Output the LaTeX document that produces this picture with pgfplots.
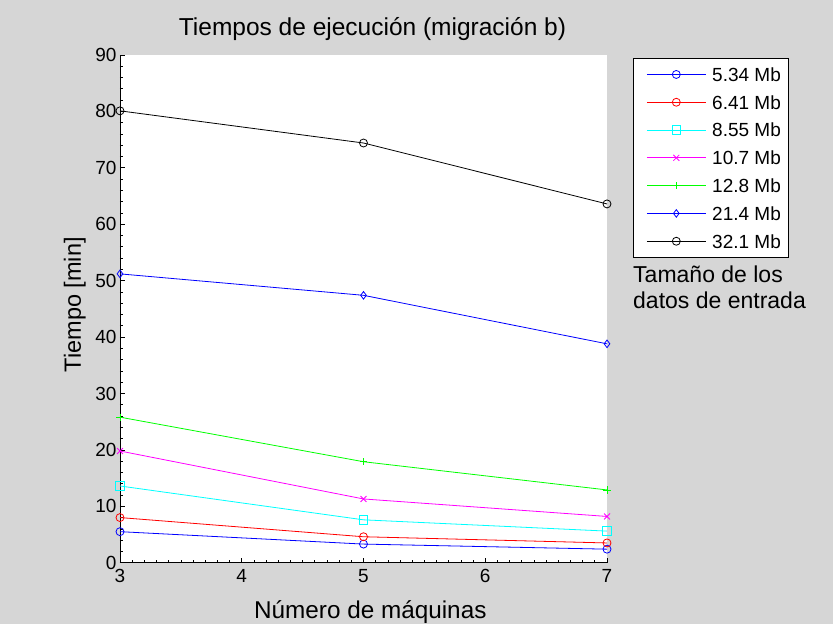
\documentclass[border=0pt]{standalone}
\usepackage{pgfplots}
\pgfplotsset{compat=1.18}
\usetikzlibrary{calc,backgrounds}
\usepackage{fontspec}
\setmainfont{Liberation Sans}
\definecolor{bg}{RGB}{214,214,214}
\definecolor{mblue}{RGB}{0,0,255}
\definecolor{mred}{RGB}{255,0,0}
\definecolor{mcyan}{RGB}{0,255,255}
\definecolor{mmagenta}{RGB}{255,0,255}
\definecolor{mgreen}{RGB}{0,255,0}

\begin{document}
\begin{tikzpicture}
\begin{axis}[
    name=ax,
    scale only axis, width=487pt, height=507.7pt,
    xmin=3, xmax=7, ymin=0, ymax=90,
    xtick={3,4,5,6,7}, ytick={0,10,...,90},
    minor x tick num=9, minor y tick num=4,
    axis x line*=bottom, axis y line*=left,
    axis line style={line width=0.8pt},
    tick align=inside,
    major tick length=5pt, minor tick length=3pt,
    tick style={black, line width=0.7pt},
    axis background/.style={fill=white},
    clip=false,
    /pgf/number format/assume math mode=true,
    tick label style={font=\fontsize{19}{22}\selectfont},
    xticklabel style={yshift=-3pt},
    title={Tiempos de ejecución (migración b)},
    title style={at={(axis description cs:0.5185,1.0262)}, anchor=base, yshift=0pt, font=\fontsize{24.5}{28}\selectfont, inner sep=0pt},
    xlabel={Número de máquinas},
    xlabel style={at={(axis description cs:0.514,-0.1105)}, anchor=base, font=\fontsize{24.3}{28}\selectfont, inner sep=0pt},
    ylabel={Tiempo [min]},
    ylabel style={at={(axis description cs:-0.0801,0.508)}, anchor=base, font=\fontsize{23.5}{28}\selectfont, inner sep=0pt},
    every axis plot/.append style={line width=0.8pt, mark options={solid, line width=0.8pt}},
    legend image code/.code={\path (-5pt,0pt); \draw[mark repeat=2,mark phase=2] plot coordinates {(0pt,0pt) (29.5pt,0pt) (59pt,0pt)};},
    legend cell align=left,
    legend style={at={(axis description cs:1.0534,0.9946)}, anchor=north west,
        draw=black, line width=0.8pt, fill=white,
        inner xsep=8pt, inner ysep=9.5pt, row sep=14.2pt, column sep=6pt,
        font=\fontsize{19}{22}\selectfont,
        nodes={inner sep=0pt, text height=13.6pt, text depth=0pt}},
]
\addplot[mblue, mark=o, mark size=4pt] coordinates {(3,5.5) (5,3.3) (7,2.4)};
\addlegendentry{5.34 Mb}
\addplot[mred, mark=o, mark size=4pt] coordinates {(3,8.0) (5,4.6) (7,3.5)};
\addlegendentry{6.41 Mb}
\addplot[mcyan, mark=square, mark size=4.3pt] coordinates {(3,13.6) (5,7.6) (7,5.6)};
\addlegendentry{8.55 Mb}
\addplot[mmagenta, mark=x, mark size=4.2pt] coordinates {(3,19.8) (5,11.3) (7,8.2)};
\addlegendentry{10.7 Mb}
\addplot[mgreen, mark=+, mark size=3.6pt] coordinates {(3,25.8) (5,17.9) (7,12.9)};
\addlegendentry{12.8 Mb}
\addplot[mblue, mark=diamond, mark size=3.8pt] coordinates {(3,51.2) (5,47.4) (7,38.8)};
\addlegendentry{21.4 Mb}
\addplot[black, mark=o, mark size=4pt] coordinates {(3,80.1) (5,74.4) (7,63.6)};
\addlegendentry{32.1 Mb}
\end{axis}
% page frame: axis box starts 120pt from the left, 61.3pt from the bottom
\coordinate (O) at ($(ax.south west)+(-120pt,-61.3pt)$);
\begin{pgfonlayer}{background}
\fill[bg] (O) rectangle ++(833pt,624pt);
\end{pgfonlayer}
\node[anchor=base west, inner sep=0pt, font=\fontsize{23}{26}\selectfont] at ($(O)+(633pt,341.3pt)$) {Tamaño de los};
\node[anchor=base west, inner sep=0pt, font=\fontsize{23}{26}\selectfont] at ($(O)+(633pt,315pt)$) {datos de entrada};
\pgfresetboundingbox
\useasboundingbox (O) rectangle ++(833pt,624pt);
\end{tikzpicture}
\end{document}
